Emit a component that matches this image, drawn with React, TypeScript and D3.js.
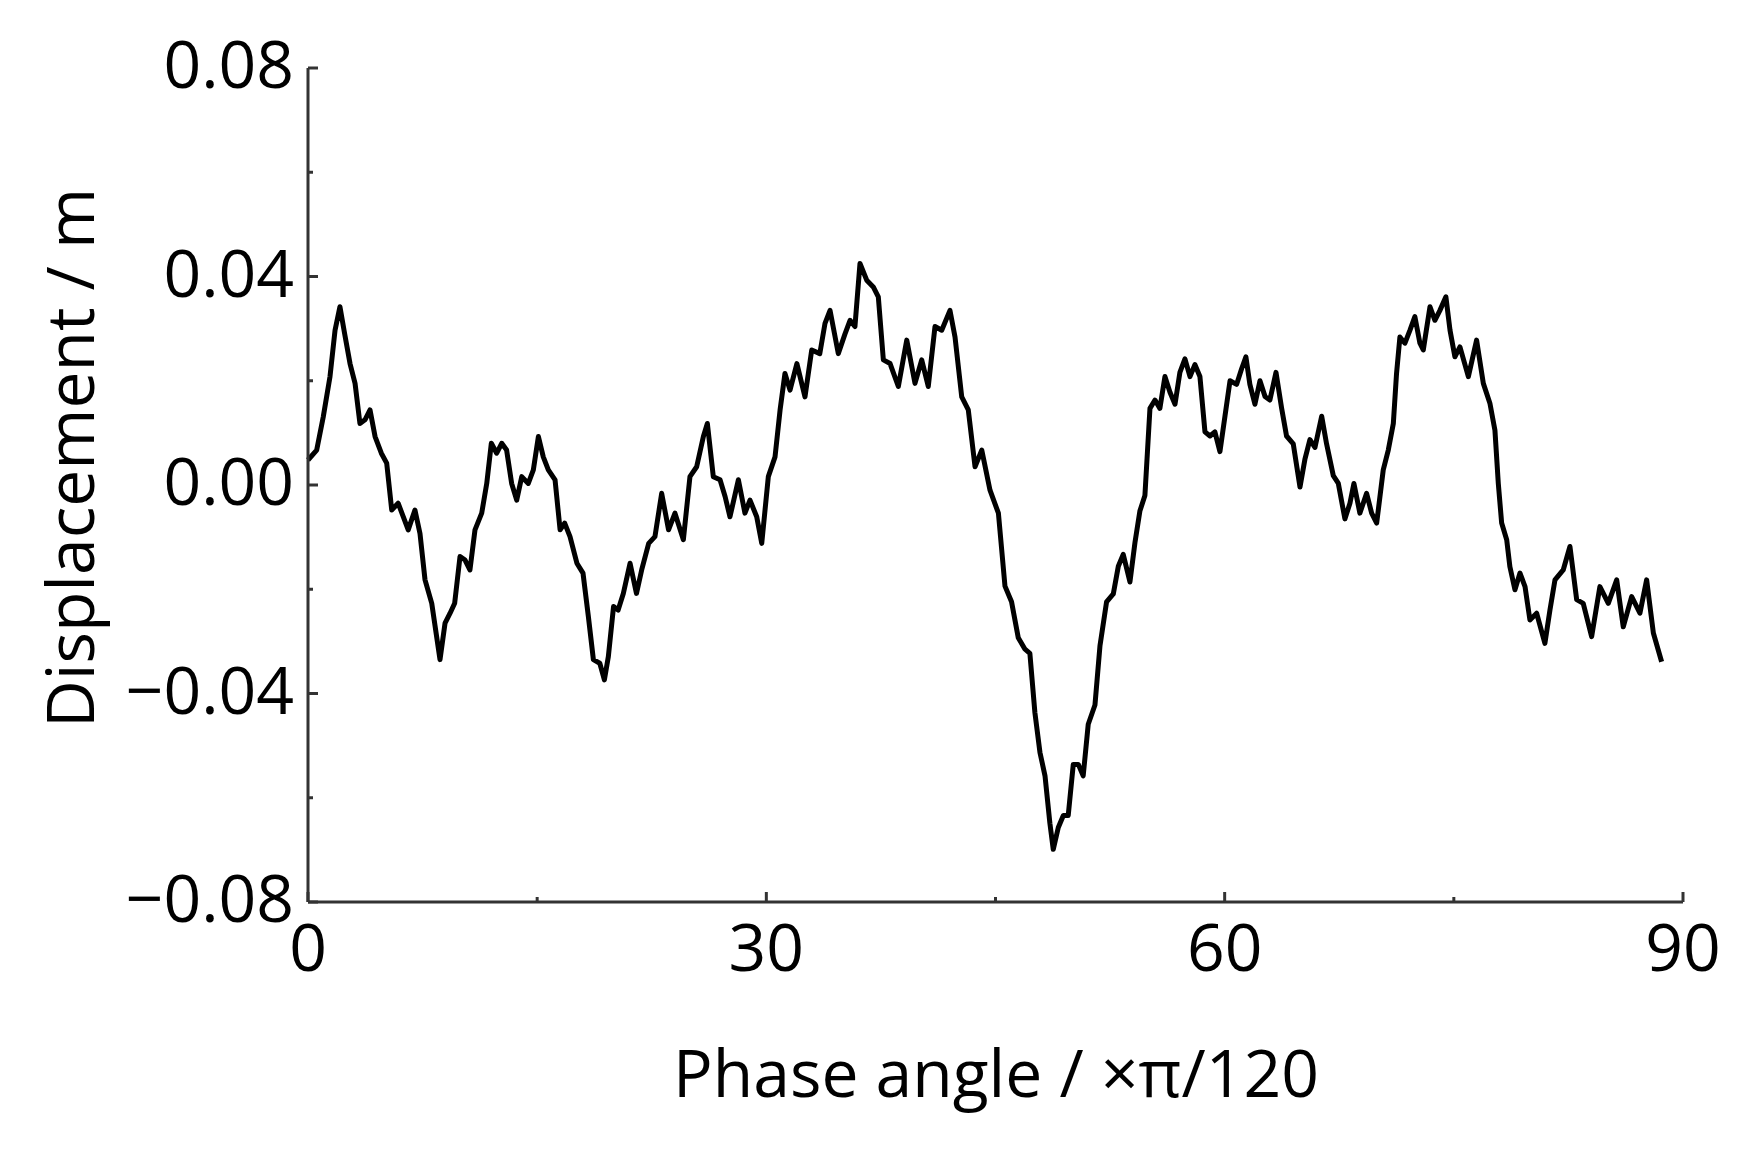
import React from "react";
import * as d3 from "d3";

const phase: number[] = [
  0, 0.57, 1.0, 1.44, 1.77, 2.09, 2.4, 2.75, 3.08, 3.4, 3.73, 4.06, 4.39, 4.8, 5.15, 5.48, 5.9, 6.24, 6.56, 7.0,
  7.33, 7.66, 8.1, 8.64, 8.97, 9.3, 9.6, 9.95, 10.28, 10.6, 10.93, 11.37, 11.7, 12.0, 12.35, 12.68, 13.0, 13.33, 13.66, 13.99,
  14.42, 14.75, 15.08, 15.4, 15.73, 16.17, 16.5, 16.8, 17.15, 17.6, 18.0, 18.35, 18.68, 19.1, 19.4, 19.66, 20.0, 20.3, 20.64, 21.08,
  21.5, 21.84, 22.3, 22.71, 23.15, 23.6, 24.02, 24.57, 25.0, 25.44, 25.88, 26.14, 26.53, 26.97, 27.3, 27.62, 28.17, 28.6, 28.93, 29.37,
  29.7, 30.13, 30.57, 30.9, 31.22, 31.55, 32.0, 32.53, 32.97, 33.5, 33.84, 34.17, 34.71, 35.15, 35.48, 35.8, 36.13, 36.57, 37.0, 37.33,
  37.66, 38.1, 38.64, 39.19, 39.73, 40.17, 40.6, 41.04, 41.48, 42.02, 42.35, 42.79, 43.22, 43.66, 44.1, 44.64, 45.19, 45.62, 46.05, 46.49,
  46.93, 47.25, 47.58, 47.91, 48.24, 48.56, 48.78, 49.11, 49.44, 49.76, 50.09, 50.42, 50.74, 51.07, 51.51, 51.84, 52.27, 52.71, 53.04, 53.36,
  53.8, 54.13, 54.45, 54.78, 55.11, 55.44, 55.76, 56.09, 56.42, 56.75, 57.07, 57.4, 57.73, 58.05, 58.38, 58.71, 59.04, 59.36, 59.69, 60.02,
  60.35, 60.78, 61.11, 61.39, 61.65, 61.98, 62.31, 62.64, 62.96, 63.36, 63.73, 64.05, 64.49, 64.93, 65.25, 65.58, 65.91, 66.35, 66.67, 67.11,
  67.44, 67.87, 68.2, 68.46, 68.85, 69.29, 69.62, 69.95, 70.38, 70.71, 71.04, 71.25, 71.47, 71.8, 72.13, 72.45, 72.78, 73.0, 73.44, 73.76,
  74.09, 74.48, 74.75, 75.07, 75.4, 75.95, 76.49, 76.93, 77.36, 77.69, 77.91, 78.13, 78.46, 78.67, 79.0, 79.33, 79.66, 79.98, 80.42, 80.96,
  81.29, 81.62, 82.16, 82.6, 83.04, 83.47, 84.02, 84.56, 85.11, 85.66, 86.09, 86.64, 87.18, 87.62, 88.06, 88.6,
];

const displacement: number[] = [
  0.0048, 0.0067, 0.0131, 0.0208, 0.0297, 0.0342, 0.029, 0.0233, 0.0195, 0.0118, 0.0125, 0.0144, 0.0093, 0.0061, 0.0042, -0.0048, -0.0035, -0.0061, -0.0086, -0.0048,
  -0.0093, -0.0182, -0.0227, -0.0335, -0.0265, -0.0246, -0.0227, -0.0137, -0.0144, -0.0163, -0.0086, -0.0054, 0.0003, 0.008, 0.0061, 0.008, 0.0067, 0.0003, -0.0029, 0.0016,
  0.0003, 0.0029, 0.0093, 0.0054, 0.0029, 0.001, -0.0086, -0.0073, -0.0099, -0.015, -0.0169, -0.0252, -0.0335, -0.0342, -0.0374, -0.0329, -0.0233, -0.024, -0.0208, -0.015,
  -0.0208, -0.0163, -0.0112, -0.0099, -0.0016, -0.0086, -0.0054, -0.0105, 0.0016, 0.0035, 0.0093, 0.0118, 0.0016, 0.001, -0.0022, -0.0061, 0.001, -0.0054, -0.0029, -0.0061,
  -0.0112, 0.0016, 0.0054, 0.0144, 0.0214, 0.0182, 0.0233, 0.0169, 0.0259, 0.0252, 0.031, 0.0335, 0.0252, 0.029, 0.0316, 0.0304, 0.0425, 0.0393, 0.038, 0.0361,
  0.024, 0.0233, 0.0189, 0.0278, 0.0195, 0.024, 0.0189, 0.0304, 0.0297, 0.0335, 0.0284, 0.0169, 0.0144, 0.0035, 0.0067, -0.001, -0.0054, -0.0194, -0.0224, -0.0293,
  -0.0315, -0.0323, -0.0437, -0.0513, -0.0558, -0.0649, -0.0699, -0.0657, -0.0634, -0.0634, -0.0536, -0.0536, -0.0558, -0.0459, -0.0422, -0.0308, -0.0224, -0.0209, -0.0156, -0.0133,
  -0.0186, -0.011, -0.005, -0.002, 0.0147, 0.0163, 0.0147, 0.0208, 0.0178, 0.0155, 0.0216, 0.0242, 0.0208, 0.0231, 0.0208, 0.0102, 0.0094, 0.0102, 0.0064, 0.0132,
  0.02, 0.0193, 0.0223, 0.0246, 0.0193, 0.0155, 0.02, 0.017, 0.0163, 0.0216, 0.0147, 0.0094, 0.0079, -0.0004, 0.0049, 0.0087, 0.0072, 0.0132, 0.0079, 0.0018,
  0.0003, -0.0065, -0.0035, 0.0003, -0.0054, -0.0016, -0.0054, -0.0073, 0.0029, 0.0067, 0.0118, 0.0214, 0.0284, 0.0272, 0.0297, 0.0323, 0.0272, 0.0259, 0.0342, 0.0316,
  0.0335, 0.0361, 0.0297, 0.0246, 0.0265, 0.0208, 0.0278, 0.0195, 0.0157, 0.0105, 0.0003, -0.0073, -0.0105, -0.0157, -0.0201, -0.0169, -0.0195, -0.0259, -0.0246, -0.0304,
  -0.024, -0.0182, -0.0163, -0.0118, -0.022, -0.0227, -0.0291, -0.0195, -0.0227, -0.0182, -0.0272, -0.0214, -0.0246, -0.0182, -0.0284, -0.0339,
];

const xMajorTicks: number[] = [0, 30, 60, 90];
const xMinorTicks: number[] = [15, 45, 75];
const yMajorTicks: number[] = [-0.08, -0.04, 0, 0.04, 0.08];
const yMinorTicks: number[] = [-0.06, -0.02, 0.02, 0.06];
const xTitle = "Phase angle / ×π/120";
const yTitle = "Displacement / m";

const W = 1745;
const H = 1150;
const left = 308;
const right = 1683;
const top = 68;
const bottom = 902;

const FONT = "'Open Sans', 'Noto Sans', sans-serif";

export default function App() {
  const x = d3.scaleLinear().domain([0, 90]).range([left, right]);
  const y = d3.scaleLinear().domain([-0.08, 0.08]).range([bottom, top]);
  const pts: [number, number][] = phase.map((p, i) => [p, displacement[i]]);
  const line = d3
    .line<[number, number]>()
    .x((d) => x(d[0]))
    .y((d) => y(d[1]))
    .curve(d3.curveLinear);

  const axisColor = "#333";
  const fmtY = (v: number) => {
    const s = Math.abs(v).toFixed(2);
    return v < 0 ? "\u2212" + s : s;
  };

  return (
    <svg
      width={W}
      height={H}
      viewBox={`0 0 ${W} ${H}`}
      style={{ position: "absolute", left: 0, top: 0, background: "#fff" }}
    >
      <rect x={0} y={0} width={W} height={H} fill="#fff" />
      <path d={line(pts) || ""} fill="none" stroke="#000" strokeWidth={5} strokeLinejoin="round" />
      <line x1={left} x2={left} y1={y(0.08)} y2={bottom} stroke={axisColor} strokeWidth={3} />
      <line x1={left} x2={x(90)} y1={bottom} y2={bottom} stroke={axisColor} strokeWidth={3} />
      {yMajorTicks.map((t) => (
        <g key={"ym" + t}>
          <line x1={left} x2={left + 10} y1={y(t)} y2={y(t)} stroke={axisColor} strokeWidth={3} />
          <text x={294} y={y(t) + 20} textAnchor="end" fontFamily={FONT} fontSize={66} fill="#000">
            {fmtY(t)}
          </text>
        </g>
      ))}
      {yMinorTicks.map((t) => (
        <line key={"yn" + t} x1={left} x2={left + 5} y1={y(t)} y2={y(t)} stroke={axisColor} strokeWidth={3} />
      ))}
      {xMajorTicks.map((t) => (
        <g key={"xm" + t}>
          <line x1={x(t)} x2={x(t)} y1={bottom} y2={bottom - 10} stroke={axisColor} strokeWidth={3} />
          <text x={x(t)} y={bottom + 69} textAnchor="middle" fontFamily={FONT} fontSize={66} fill="#000">
            {t}
          </text>
        </g>
      ))}
      {xMinorTicks.map((t) => (
        <line key={"xn" + t} x1={x(t)} x2={x(t)} y1={bottom} y2={bottom - 5} stroke={axisColor} strokeWidth={3} />
      ))}
      <text x={996} y={1097} textAnchor="middle" fontFamily={FONT} fontSize={66} fill="#000">
        {xTitle}
      </text>
      <text
        transform={`translate(94, 458) rotate(-90)`}
        textAnchor="middle"
        fontFamily={FONT}
        fontSize={66}
        fill="#000"
      >
        {yTitle}
      </text>
    </svg>
  );
}
